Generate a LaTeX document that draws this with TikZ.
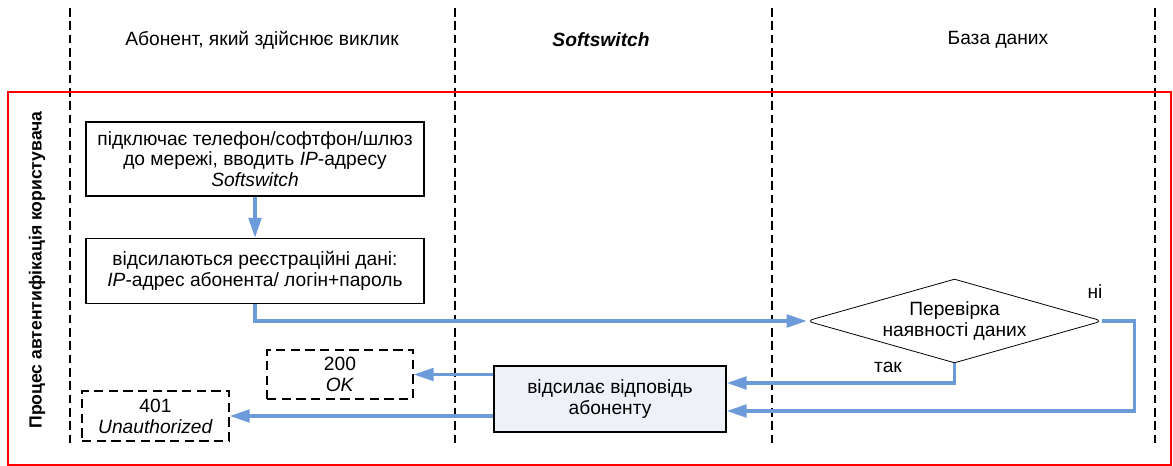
\documentclass[tikz,border=0pt]{standalone}
\usepackage{fontspec}
\setmainfont{Liberation Sans}
\usetikzlibrary{arrows.meta,shapes.geometric}
\definecolor{flow}{RGB}{109,155,218}
\definecolor{fillc}{RGB}{238,241,247}
\begin{document}
\begin{tikzpicture}[x=0.75pt,y=-0.75pt,
  txt/.style={font=\fontsize{14.4}{15.6}\selectfont, align=center},
  lane/.style={draw, dash pattern=on 6.5pt off 3.5pt, line width=1pt},
  procbox/.style={txt, draw, line width=1pt, inner sep=0pt},
  resbox/.style={txt, draw, dash pattern=on 7pt off 4pt, line width=1pt, inner sep=0pt},
  flowline/.style={draw=flow, line width=2.4pt, -{Triangle[length=15pt,width=9.5pt]}}]
\useasboundingbox (0,0) rectangle (1173,466);
% lanes
\foreach \x in {70,455,772,1155} \draw[lane] (\x,8) -- (\x,445);
% frame
\draw[red, line width=1pt] (8,92) rectangle (1171,465);
% headers
\node[txt] (h1) at (262,40) {Абонент, який здійснює виклик};
\node[txt, font=\fontsize{14.4}{15.6}\selectfont\bfseries\itshape] (h2) at (601,40) {Softswitch};
\node[txt] (h3) at (998,40) {База даних};
\node[txt, font=\fontsize{13.2}{15.6}\selectfont\bfseries, rotate=90] (side) at (37,270) {Процес автентифікація користувача};
% boxes
\node[procbox, minimum width=253.5pt, minimum height=55.5pt] (box1) at (255,159)
  {підключає телефон/софтфон/шлюз\\до мережі, вводить \textit{IP}-адресу\\\textit{Softswitch}};
\node[procbox, minimum width=253.5pt, minimum height=48.75pt] (box2) at (255,271)
  {відсилаються реєстраційні дані:\\\textit{IP}-адрес абонента/ логін+пароль};
\node[procbox, fill=fillc, minimum width=174pt, minimum height=49.5pt] (box3) at (610,399)
  {відсилає відповідь\\абоненту};
\node[resbox, minimum width=109.5pt, minimum height=36.75pt] (ok) at (340,374.5) {200\\\textit{OK}};
\node[resbox, minimum width=110.25pt, minimum height=37.5pt] (un) at (155.5,416) {401\\\textit{Unauthorized}};
\node[txt, shape=diamond, aspect=3.55, inner sep=0pt,
  minimum width=221.25pt, minimum height=62.25pt] (dia) at (954.5,321) {Перевірка\\наявності даних};
\draw[line width=0.6pt] (dia.north) [rounded corners=5pt] -- (dia.east) [sharp corners] -- (dia.south)
  [rounded corners=5pt] -- (dia.west) [sharp corners] -- cycle;
\node[txt] (yes) at (888,367) {так};
\node[txt] (no) at (1095,292) {ні};
% flows
\draw[flowline] (box1) -- (box2);
\draw[flowline] (box2.south) |- (dia.west);
\draw[flowline] (dia.south) |- ([yshift=12pt]box3.east);
\draw[flowline] (dia.east) -- ++(32,0) |- ([yshift=-9pt]box3.east);
\draw[flowline] (box3.west |- ok.east) -- (ok.east);
\draw[flowline] (box3.west |- un.east) -- (un.east);
\end{tikzpicture}
\end{document}
